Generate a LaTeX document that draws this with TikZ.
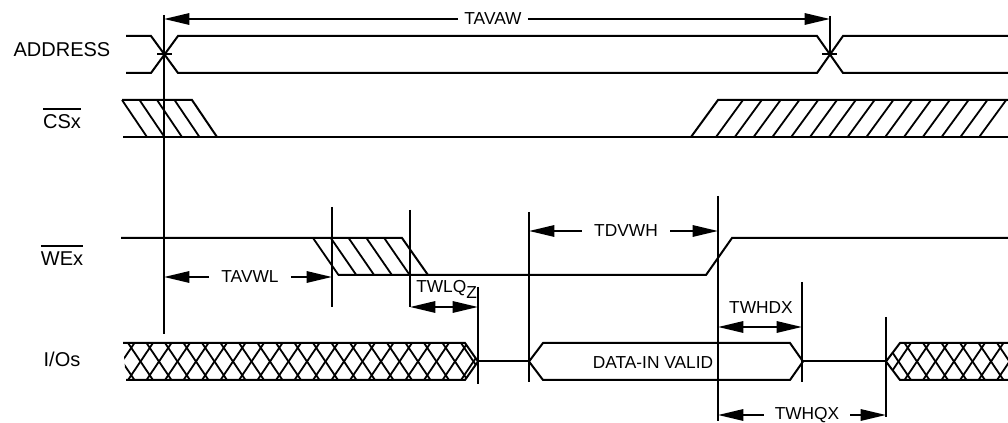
\documentclass[tikz,border=0pt]{standalone}
\usepackage{fontspec}
\setmainfont{Liberation Sans}
\usetikzlibrary{arrows.meta}
\newcommand\negsig[1]{\vbox{\hrule height 1.3pt\kern 4pt\hbox{#1}}}

\begin{document}
\begin{tikzpicture}[
  x=0.75pt,
  y=-0.75pt,
  wave/.style={draw=black, line width=1.5pt, line join=miter},
  hatch/.style={draw=black, line width=1.35pt},
  guide/.style={draw=black, line width=1.4pt},
  dimline/.style={draw=black, line width=1.5pt, -{Triangle[length=19pt,width=8.5pt]}},
  twoway/.style={draw=black, line width=1.5pt,
    {Triangle[length=19pt,width=8.5pt]}-{Triangle[length=19pt,width=8.5pt]}},
  siglabel/.style={anchor=base, inner sep=0pt, font=\fontsize{15}{18}\selectfont},
  timing/.style={inner ysep=0pt, inner xsep=9pt, font=\fontsize{13}{15}\selectfont}
]
  \def\xr{1008}
  \useasboundingbox (0,0) rectangle (\xr,423);

  % Signal names.
  \node[siglabel] (addr) at (62,57) {ADDRESS};
  \node[siglabel] (csx)  at (62,129) {\negsig{CSx}};
  \node[siglabel] (wex)  at (62,266) {\negsig{WEx}};
  \node[siglabel] (ios)  at (62,367) {I/Os};

  % ADDRESS bus with its two transitions.
  \draw[wave] (126,36) -- (151,36) -- (178,73) -- (817,73) -- (843,36) -- (\xr,36);
  \draw[wave] (126,73) -- (151,73) -- (178,36) -- (817,36) -- (843,73) -- (\xr,73);
  \draw[wave] (157,54.5) -- (172,54.5);
  \draw[wave] (822,54.5) -- (837,54.5);

  % CSx: don't-care falling and rising windows.
  \draw[wave] (122,100) -- (192,100) -- (217,137);
  \draw[wave] (123,137) -- (\xr,137);
  \draw[wave] (691,137) -- (718,100) -- (\xr,100);
  \foreach \k in {0,...,3}
    \draw[hatch] ({122+17.5*\k},100) -- ++(25,37);
  \foreach \k in {0,...,14}
    \draw[hatch] ({716+18.8*\k},137) -- ++(27,-37);

  % WEx strobe.
  \draw[wave] (121,238) -- (402,238) -- (428,275);
  \draw[wave] (338,275) -- (706,275) -- (732,238) -- (\xr,238);
  \foreach \k in {0,...,4}
    \draw[hatch] ({313+17.8*\k},238) -- ++(25.5,37);

  % I/Os: invalid data, high-Z, valid data-in, high-Z, invalid.
  \begin{scope}
    \clip (123,343) -- (465,343) -- (478,361.5) -- (465,380) -- (126,380) -- cycle;
    \foreach \k in {-1,...,19} {
      \draw[hatch] ({128+18.5*\k},343) -- ++(25,37);
      \draw[hatch] ({128+18.5*\k},380) -- ++(25,-37);
    }
  \end{scope}
  \draw[wave] (123,343) -- (465,343) -- (478,361.5) -- (465,380) -- (126,380);
  \draw[wave] (478,361.5) -- (529,361.5);
  \draw[wave] (529,361.5) -- (543,343) -- (790,343) -- (803,361.5)
    -- (790,380) -- (543,380) -- cycle;
  \node[timing, anchor=base, inner sep=0pt] (din) at (653,369) {DATA-IN VALID};
  \draw[wave] (803,361.5) -- (886,361.5);
  \begin{scope}
    \clip (886,361.5) -- (900,343) -- (\xr,343) -- (\xr,380) -- (900,380) -- cycle;
    \foreach \k in {-2,...,6} {
      \draw[hatch] ({904.5+18.5*\k},343) -- ++(25,37);
      \draw[hatch] ({904.5+18.5*\k},380) -- ++(25,-37);
    }
  \end{scope}
  \draw[wave] (\xr,343) -- (900,343) -- (886,361.5) -- (900,380) -- (\xr,380);

  % Reference verticals.
  \draw[guide] (164,15) -- (164,334);
  \draw[guide] (830,16) -- (830,56);
  \draw[guide] (332,207) -- (332,307);
  \draw[guide] (410,210) -- (410,307);
  \draw[guide] (478,287) -- (478,384);
  \draw[guide] (529,212) -- (529,382);
  \draw[guide] (718,196) -- (718,421);
  \draw[guide] (802,282) -- (802,382);
  \draw[guide] (886,317) -- (886,417);

  % Timing parameters.
  \coordinate (awL) at (164,19);
  \coordinate (awR) at (830,19);
  \node[timing, inner xsep=4.5pt] (tavaw) at (493,19) {TAVAW};
  \draw[dimline] (tavaw) -- (awL);
  \draw[dimline] (tavaw) -- (awR);

  \coordinate (wlL) at (164,277);
  \coordinate (wlR) at (332,277);
  \node[timing] (tavwl) at (250,277) {TAVWL};
  \draw[dimline] (tavwl) -- (wlL);
  \draw[dimline] (tavwl) -- (wlR);

  \coordinate (qzL) at (410,307);
  \coordinate (qzR) at (478,307);
  \draw[twoway] (qzL) -- (qzR);
  \node[timing, anchor=base west, inner sep=0pt] (twlqz) at (416,293)
    {TWLQ\raisebox{-4pt}{Z}};

  \coordinate (vhL) at (529,231);
  \coordinate (vhR) at (718,231);
  \node[timing] (tdvwh) at (626,231) {TDVWH};
  \draw[dimline] (tdvwh) -- (vhL);
  \draw[dimline] (tdvwh) -- (vhR);

  \coordinate (hdL) at (718,327);
  \coordinate (hdR) at (802,327);
  \draw[twoway] (hdL) -- (hdR);
  \node[timing, anchor=base, inner sep=0pt] (twhdx) at (761,313.5) {TWHDX};

  \coordinate (hqL) at (718,415);
  \coordinate (hqR) at (886,415);
  \node[timing, inner xsep=8pt] (twhqx) at (807,415) {TWHQX};
  \draw[dimline] (twhqx) -- (hqL);
  \draw[dimline] (twhqx) -- (hqR);
\end{tikzpicture}
\end{document}
